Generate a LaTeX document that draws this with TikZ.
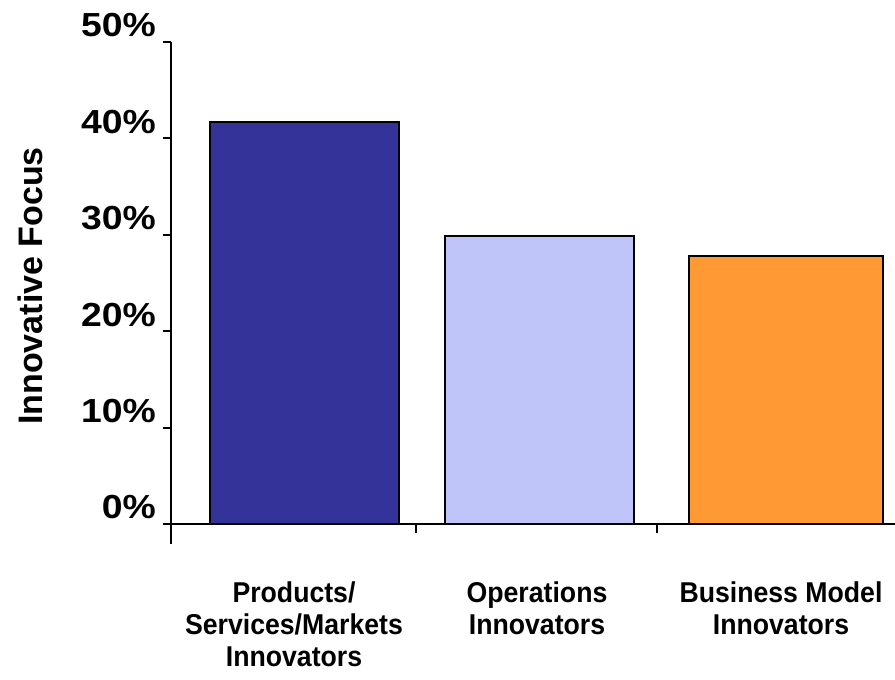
\documentclass[tikz,border=0pt]{standalone}
\usepackage{fontspec}
\setmainfont{Liberation Sans}
\newfontfamily\tickfont[FakeStretch=1.12]{Liberation Sans}
\newfontfamily\catfont[FakeStretch=0.93]{Liberation Sans}

\definecolor{barNavy}{HTML}{333399}
\definecolor{barLavender}{HTML}{BFC5F9}
\definecolor{barOrange}{HTML}{FF9933}

\begin{document}
\begin{tikzpicture}[x=0.75pt,y=0.75pt,
  bar/.style={draw=black,line width=1.5pt},
  axis/.style={line width=1.5pt},
  ticklabel/.style={anchor=base east,inner sep=0pt,font=\tickfont\fontsize{25}{30}\selectfont\bfseries},
  catlabel/.style={anchor=north,inner sep=0pt,align=center,font=\catfont\fontsize{21.5}{24}\selectfont\bfseries}]

\useasboundingbox (0,0) rectangle (895,680);

% bars
\draw[bar,fill=barNavy] (210,156) rectangle (399,558);
\draw[bar,fill=barLavender] (445,156) rectangle (634,444);
\draw[bar,fill=barOrange] (689,156) rectangle (883,424);

% axes
\coordinate (o) at (171,156);
\coordinate (ytop) at (171,638);
\coordinate (ybot) at (171,136);
\coordinate (xend) at (895,156);
\draw[axis] (ybot) -- (ytop);
\draw[axis] (o) -- (xend);

\foreach \i/\lab in {0/0,1/10,2/20,3/30,4/40,5/50} {
  \draw[axis] (163,156+96.4*\i) -- (171,156+96.4*\i);
  \node[ticklabel] (tick\i) at (156,161+96.4*\i) {\lab\%};
}

\foreach \x in {416,657}
  \draw[axis] (\x,156) -- (\x,147);

% labels
\node[rotate=90,anchor=base,inner sep=0pt,font=\fontsize{25.5}{30}\selectfont\bfseries] (ytitle) at (42,394) {Innovative Focus};

\node[catlabel] (catA) at (294,99) {Products/\\Services/Markets\\Innovators};
\node[catlabel] (catB) at (537,99) {Operations\\Innovators};
\node[catlabel] (catC) at (781,99) {Business Model\\Innovators};

\end{tikzpicture}
\end{document}
